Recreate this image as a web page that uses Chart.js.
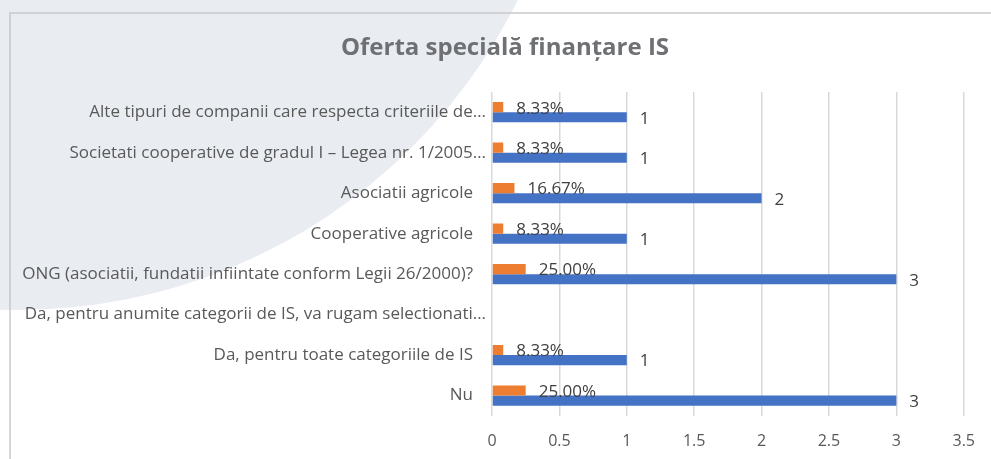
<!DOCTYPE html>
<html>
<head>
<meta charset="utf-8">
<script src="https://cdn.jsdelivr.net/npm/chart.js@4"></script>
<style>
  html, body { margin: 0; padding: 0; background: #fff; }
  #wrap { width: 991px; height: 459px; }
</style>
</head>
<body>
<div id="wrap"><canvas id="chart" width="991" height="459"></canvas></div>
<script>
const categories = [
    "Alte tipuri de companii care respecta criteriile de…",
    "Societati cooperative de gradul I – Legea nr. 1/2005…",
    "Asociatii agricole",
    "Cooperative agricole",
    "ONG (asociatii, fundatii infiintate conform Legii 26/2000)?",
    "Da, pentru anumite categorii de IS, va rugam selectionati…",
    "Da, pentru toate categoriile de IS",
    "Nu"
]
const counts = [1, 1, 2, 1, 3, null, 1, 3]
const shares = [0.0833, 0.0833, 0.1667, 0.0833, 0.25, null, 0.0833, 0.25]
const xTicks = [0, 0.5, 1, 1.5, 2, 2.5, 3, 3.5]

const FONT = '"Open Sans", sans-serif'

// slide background: light grey disc + frame lines
const backdrop = {
    id: 'backdrop',
    beforeDraw(chart) {
        const ctx = chart.ctx
        ctx.save()
        ctx.fillStyle = '#ffffff'
        ctx.fillRect(0, 0, chart.width, chart.height)
        ctx.fillStyle = '#e9ecf1'
        ctx.beginPath()
        ctx.arc(18, -248, 558, 0, Math.PI * 2)
        ctx.fill()
        ctx.strokeStyle = 'rgba(200,200,200,0.75)'
        ctx.lineWidth = 2
        ctx.beginPath()
        ctx.moveTo(10, chart.height)
        ctx.lineTo(10, 13)
        ctx.lineTo(chart.width, 13)
        ctx.stroke()

        ctx.fillStyle = '#6e7073'
        ctx.font = 'bold 24px ' + FONT
        ctx.textAlign = 'center'
        ctx.textBaseline = 'middle'
        ctx.fillText('Oferta specială finanțare IS', 505, 48)
        ctx.restore()
    }
}

// category labels, right aligned to the axis
const catLabels = {
    id: 'catLabels',
    afterDraw(chart) {
        const ctx = chart.ctx
        const y = chart.scales.y
        ctx.save()
        ctx.font = '17px ' + FONT
        ctx.fillStyle = '#595959'
        ctx.textAlign = 'right'
        ctx.textBaseline = 'middle'
        categories.forEach((c, i) => {
            const x = c.endsWith('…') ? 486 : 473
            ctx.fillText(c, x, y.getPixelForTick(i))
        })
        ctx.restore()
    }
}

// value labels at the end of each bar
const valueLabels = {
    id: 'valueLabels',
    afterDatasetsDraw(chart) {
        const ctx = chart.ctx
        ctx.save()
        ctx.font = '17px ' + FONT
        ctx.fillStyle = '#404040'
        ctx.textAlign = 'left'
        ctx.textBaseline = 'middle'
        chart.data.datasets.forEach((ds, di) => {
            chart.getDatasetMeta(di).data.forEach((bar, i) => {
                const v = ds.data[i]
                if (v === null) return
                const txt = di === 0 ? (v * 100).toFixed(2) + '%' : String(v)
                ctx.fillText(txt, bar.x + 13, bar.y + 1.5)
            })
        })
        ctx.restore()
    }
}

new Chart(document.getElementById('chart'), {
    type: 'bar',
    data: {
        labels: categories,
        datasets: [{
            label: 'Procent',
            data: shares,
            backgroundColor: '#ed7d31',
            categoryPercentage: 0.5,
            barPercentage: 1.0
        }, {
            label: 'Numar',
            data: counts,
            backgroundColor: '#4472c4',
            categoryPercentage: 0.5,
            barPercentage: 1.0
        }]
    },
    options: {
        indexAxis: 'y',
        responsive: false,
        devicePixelRatio: 1,
        animation: false,
        layout: { padding: { left: 484, right: 26, top: 92, bottom: -8 } },
        plugins: {
            legend: { display: false },
            tooltip: { enabled: false }
        },
        scales: {
            x: {
                min: 0,
                max: 3.5,
                afterBuildTicks(scale) {
                    scale.ticks = xTicks.map(v => ({ value: v }))
                },
                grid: { color: '#d9d9d9', lineWidth: 1.5, drawTicks: false },
                border: { display: false },
                ticks: {
                    color: '#595959',
                    font: { family: FONT, size: 16 },
                    padding: 16,
                    callback: v => String(v)
                }
            },
            y: {
                grid: { display: false },
                border: { display: false },
                ticks: { display: false }
            }
        }
    },
    plugins: [backdrop, catLabels, valueLabels]
})
</script>
</body>
</html>
